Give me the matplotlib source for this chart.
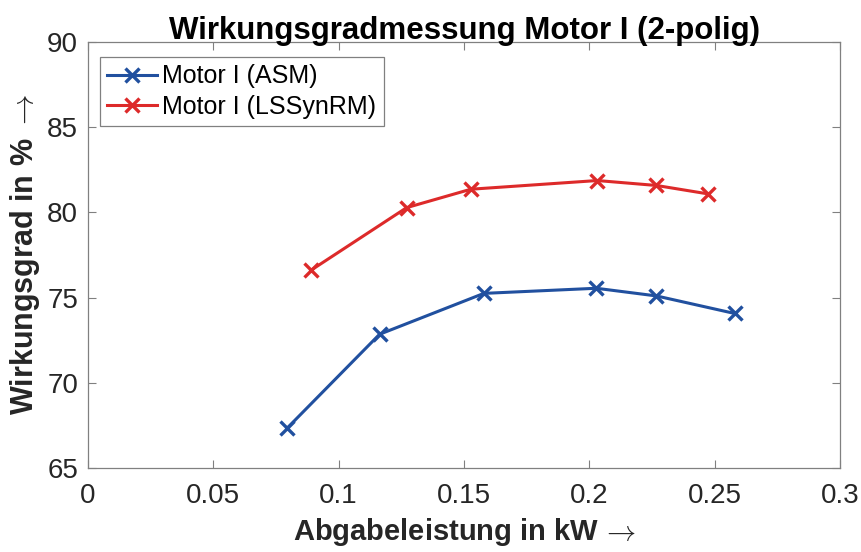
import matplotlib
matplotlib.use("Agg")
import matplotlib.pyplot as plt

plt.rcParams['font.family'] = ['Liberation Sans', 'DejaVu Sans']
plt.rcParams['mathtext.fontset'] = 'cm'

# Motor I (ASM)
asm_p = [0.0795, 0.1163, 0.1579, 0.2027, 0.2267, 0.2579]
asm_eta = [67.35, 72.85, 75.25, 75.55, 75.1, 74.07]

# Motor I (LSSynRM)
syn_p = [0.0891, 0.1271, 0.1527, 0.2031, 0.2267, 0.2471]
syn_eta = [76.62, 80.28, 81.36, 81.87, 81.58, 81.09]

xticks = [0, 0.05, 0.1, 0.15, 0.2, 0.25, 0.3]
xticklabels = ['0', '0.05', '0.1', '0.15', '0.2', '0.25', '0.3']
yticks = [65, 70, 75, 80, 85, 90]

fig = plt.figure(figsize=(8.61, 5.52), dpi=100)
ax = fig.add_axes([0.102, 0.152, 0.874, 0.772])

ax.plot(asm_p, asm_eta, color='#21509f', marker='x', markersize=9.5,
        markeredgewidth=2.4, linewidth=2.2, label='Motor I (ASM)')
ax.plot(syn_p, syn_eta, color='#dd2a2a', marker='x', markersize=9.5,
        markeredgewidth=2.4, linewidth=2.2, label='Motor I (LSSynRM)')

ax.set_xlim(0, 0.3)
ax.set_ylim(65, 90)
ax.set_xticks(xticks)
ax.set_xticklabels(xticklabels)
ax.set_yticks(yticks)
ax.tick_params(direction='in', length=6, width=0.8, color='#808080',
               labelsize=20, top=True, right=True, labelcolor='#262626')
ax.tick_params(axis='x', pad=11)
ax.tick_params(axis='y', pad=7)
for s in ax.spines.values():
    s.set_color('#808080')
    s.set_linewidth(0.9)

ax.set_title('Wirkungsgradmessung Motor I (2-polig)', fontsize=22.5,
             fontweight='bold', pad=2)
ax.set_xlabel(r'Abgabeleistung in kW$\,\rightarrow$', fontsize=21,
              fontweight='bold', labelpad=5, color='#262626')
ax.set_ylabel(r'Wirkungsgrad in % $\rightarrow$', fontsize=22,
              fontweight='bold', labelpad=4, color='#262626')

leg = ax.legend(loc='upper left', bbox_to_anchor=(12 / 752, 1 - 15 / 426),
                borderaxespad=0, fontsize=18, handlelength=2.0,
                fancybox=False, edgecolor='#808080', framealpha=1,
                handletextpad=0.2, labelspacing=0.25, borderpad=0.3)
leg.get_frame().set_linewidth(0.9)

fig.savefig('out.png', dpi=100)
